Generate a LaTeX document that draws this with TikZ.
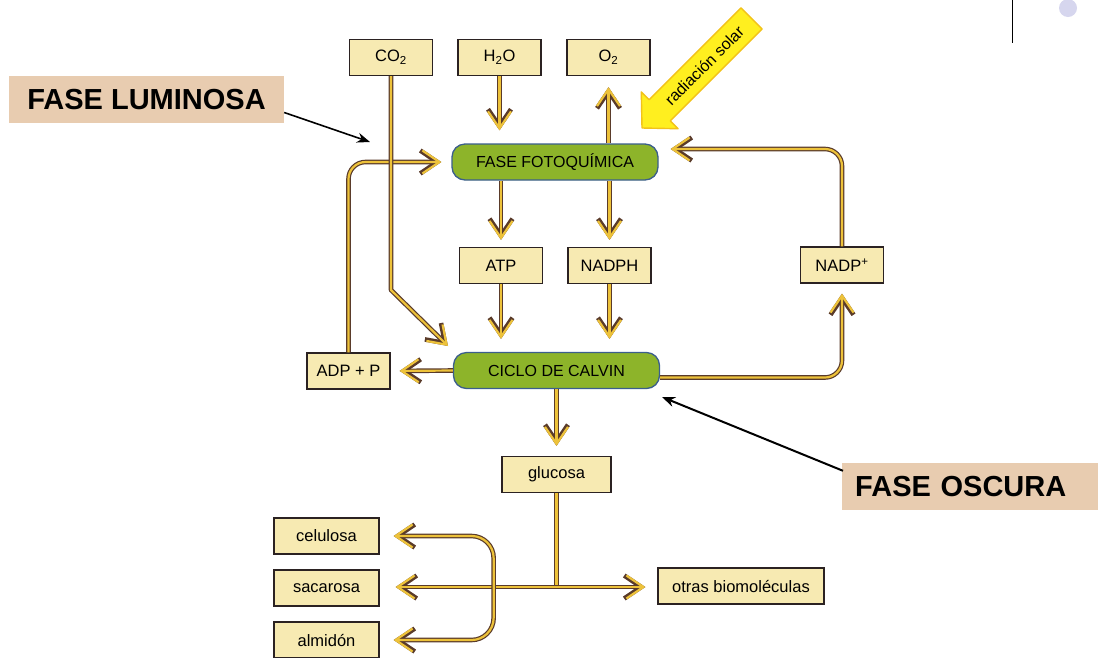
\documentclass[tikz,border=0pt]{standalone}
\usepackage{fontspec}
\setmainfont{Liberation Sans}
\usetikzlibrary{arrows.meta, positioning, calc}

\definecolor{boxfill}{HTML}{F7EAB2}
\definecolor{boxline}{HTML}{2B2222}
\definecolor{phasefill}{HTML}{8DB42A}
\definecolor{phaseline}{HTML}{3B5E8C}
\definecolor{flowyel}{HTML}{EDC23A}
\definecolor{flowdark}{HTML}{5A3B2A}
\definecolor{tagfill}{HTML}{E8CCB0}
\definecolor{sunfill}{HTML}{FFEF1F}
\definecolor{sunline}{HTML}{F2C21A}
\definecolor{dotcol}{HTML}{D6D6EE}

\begin{document}
\begin{tikzpicture}[
    x=1pt, y=-1pt,
    item/.style={rectangle, draw=boxline, fill=boxfill, line width=1.3pt,
                 minimum width=83pt, minimum height=36pt, inner sep=2pt,
                 font=\fontsize{16.5}{18}\selectfont},
    phase/.style={rectangle, draw=phaseline, fill=phasefill, line width=1.3pt,
                  rounded corners=13pt, minimum width=206pt, minimum height=36pt,
                  font=\fontsize{16}{18}\selectfont},
    tag/.style={rectangle, fill=tagfill, minimum height=47pt, inner sep=0pt,
                font=\bfseries\fontsize{29}{34}\selectfont},
    pipe/.style={draw=flowdark, line width=4.6pt, line join=round,
                 postaction={draw=flowyel, line width=2.2pt}},
    flow/.style={draw=flowdark, line width=4.6pt, line join=round,
                 -{Straight Barb[length=17pt, width=23pt]},
                 postaction={draw=flowyel, line width=2.2pt,
                             -{Straight Barb[length=17pt, width=23pt]}}},
    note/.style={draw=black, line width=1.6pt, -{Stealth[length=13pt, width=10pt]}}
]
    \useasboundingbox (0,0) rectangle (1098,657);

    % inputs and outputs at the top
    \node[item] (co2) at (391,57.5)   {CO\textsubscript{2}};
    \node[item] (h2o) at (499.5,57.5) {H\textsubscript{2}O};
    \node[item] (o2)  at (608.5,57.5) {O\textsubscript{2}};

    % the two phases
    \node[phase] (foto)   at (555,162)     {FASE FOTOQUÍMICA};
    \node[phase] (calvin) at (556.5,370.5) {CICLO DE CALVIN};

    \node[item] (atp)   at (501,265.5)   {ATP};
    \node[item] (nadph) at (609.5,265.5) {NADPH};
    \node[item] (nadpp) at (842,265)     {NADP\textsuperscript{+}};
    \node[item] (adp)   at (348.5,371)   {ADP + P};

    % products
    \node[item, minimum width=109pt] (glucosa)  at (556.5,474.5) {glucosa};
    \node[item, minimum width=105pt] (celulosa) at (326.5,536)   {celulosa};
    \node[item, minimum width=105pt] (sacarosa) at (326.5,588)   {sacarosa};
    \node[item, minimum width=105pt] (almidon)  at (326.5,640)   {almidón};
    \node[item, minimum width=166pt] (otras)    at (741,586)     {otras biomoléculas};

    % labels
    \node[tag, minimum width=275pt] (lum) at (146.5,99.5) {FASE LUMINOSA};
    \node[tag, anchor=west, text width=230pt, align=left, inner xsep=13pt]
        (osc) at (842,486.5) {FASE OSCURA};

    % sunlight
    \begin{scope}[shift={(642,128)}, rotate=45]
        \filldraw[fill=sunfill, draw=sunline, line width=1.4pt, line join=round]
            (0,0) -- (25,-26) -- (25,-15) -- (155,-15) -- (155,15)
            -- (25,15) -- (25,26) -- cycle;
        \node[rotate=45, font=\fontsize{16}{18}\selectfont] (sun) at (88,0)
            {radiación solar};
    \end{scope}

    \coordinate (co2bend) at (391,290);
    \coordinate (co2in)   at (448,346);
    \coordinate (split)   at (glucosa.south |- 0,587);
    \coordinate (fork)    at ($(sacarosa.east)+(114,-1)$);
    \coordinate (lumtip)  at (370,142);
    \coordinate (osctip)  at (662,397);

    % connectors
    \draw[flow, shorten >=13pt] (h2o.south) -- (h2o.south |- foto.north);
    \draw[flow, shorten >=11pt] (foto.north -| o2) -- (o2.south);
    \draw[flow, shorten >=7pt]  (foto.south -| atp) -- (atp.north);
    \draw[flow, shorten >=7pt]  (foto.south -| nadph) -- (nadph.north);
    \draw[flow, shorten >=13pt] (atp.south) -- (atp.south |- calvin.north);
    \draw[flow, shorten >=13pt] (nadph.south) -- (nadph.south |- calvin.north);
    \draw[flow, shorten >=9pt]  (calvin.west) -- (adp.east);
    \draw[flow, shorten >=10pt] (calvin.south) -- (glucosa.north);
    \draw[flow, rounded corners=17pt, shorten >=10pt]
        (adp.north) |- (foto.west);
    \draw[flow, rounded corners=17pt, shorten >=10pt]
        ($(calvin.east)+(0,7)$) -| (nadpp.south);
    \draw[flow, rounded corners=17pt, shorten >=12pt]
        (nadpp.north) |- ($(foto.east)+(0,-13)$);
    \draw[flow] (co2.south) -- (co2bend) -- (co2in);

    \draw[pipe] (glucosa.south) -- (split);
    \draw[flow, shorten >=16pt] (split) -- (split -| sacarosa.east);
    \draw[flow, shorten >=12pt] (split) -- (split -| otras.west);
    \draw[flow, rounded corners=22pt, shorten >=14pt] (fork) |- (celulosa.east);
    \draw[flow, rounded corners=22pt, shorten >=14pt] (fork) |- (almidon.east);

    \draw[note] ($(lum.east)+(0,13)$) -- (lumtip);
    \draw[note, line width=2pt] ($(osc.north west)+(1,8)$) -- (osctip);

    % corner marks
    \draw[line width=1pt] (1012,0) -- (1012,43);
    \fill[dotcol] (1068,8) circle (9);
\end{tikzpicture}
\end{document}
